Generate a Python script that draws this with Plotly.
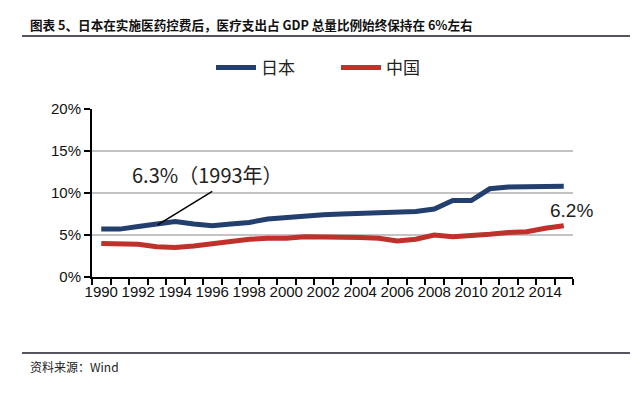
import plotly.graph_objects as go

years = list(range(1990, 2016))
japan = [5.7, 5.7, 6.0, 6.3, 6.6, 6.3, 6.1, 6.3, 6.5, 6.9, 7.1, 7.3, 7.4,
         7.5, 7.6, 7.7, 7.7, 7.8, 8.1, 9.1, 9.1, 10.5, 10.7, 10.7, 10.8, 10.8]
china = [4.0, 4.0, 3.9, 3.6, 3.5, 3.7, 4.0, 4.3, 4.5, 4.6, 4.6, 4.8, 4.8,
         4.8, 4.7, 4.6, 4.3, 4.5, 5.0, 4.8, 4.9, 5.1, 5.3, 5.4, 5.8, 6.1]
series_names = ["日本", "中国"]
y_ticks = [0, 5, 10, 15, 20]
y_tick_labels = ["0%", "5%", "10%", "15%", "20%"]
x_ticks = list(range(1990, 2015, 2))
title_text = "图表 5、日本在实施医药控费后，医疗支出占 GDP 总量比例始终保持在 6%左右"
source_text = "资料来源：Wind"
note_1993 = "6.3%（1993年）"
note_end = "6.2%"

# page has an 8px body margin, so the figure is drawn 8px smaller
W, H = 632, 393
L, R, T, B = 84, 67, 101, 124
pw, ph = W - L - R, H - T - B

def px(x):  # reference-page pixel -> paper fraction
    return (x - 8 - L) / pw

def py(y):
    return (H - B - (y - 8)) / ph

BLUE = "#223F6E"
RED = "#C0312C"
tick_font = dict(family="Liberation Sans, Arial", size=15, color="#111111")

fig = go.Figure()
fig.add_trace(go.Scatter(x=years, y=japan, mode="lines", name=series_names[0],
                         line=dict(color=BLUE, width=5, shape="linear")))
fig.add_trace(go.Scatter(x=years, y=china, mode="lines", name=series_names[1],
                         line=dict(color=RED, width=5, shape="linear")))

fig.update_layout(
    width=W, height=H,
    margin=dict(l=L, r=R, t=T, b=B, autoexpand=False),
    paper_bgcolor="white", plot_bgcolor="white",
    showlegend=True,
    legend=dict(orientation="h", x=px(211), y=py(68), xanchor="left", yanchor="middle",
                font=dict(family="Noto Sans CJK SC", size=17, color="#222222"),
                itemwidth=40, entrywidth=70, entrywidthmode="pixels",
                traceorder="normal", bgcolor="rgba(0,0,0,0)"),
)
fig.update_xaxes(range=[1989.5, 2015.5], tickvals=x_ticks, ticktext=[str(v) for v in x_ticks],
                 ticks="", showgrid=False, zeroline=False, tickangle=0, automargin=False,
                 showline=True, linecolor="black", linewidth=2,
                 tickfont=tick_font,
                 minor=dict(tick0=1989.5, dtick=1, ticks="outside", ticklen=6, tickwidth=2,
                            tickcolor="black", showgrid=False))
fig.update_yaxes(range=[0, 20], tickvals=y_ticks, ticktext=y_tick_labels, automargin=False,
                 ticks="outside", ticklen=6, tickwidth=2, tickcolor="black",
                 showgrid=True, gridcolor="#C4C4C4", gridwidth=1.5, zeroline=False,
                 showline=True, linecolor="black", linewidth=2,
                 tickfont=tick_font)

# pointer line for 1993 annotation
fig.add_shape(type="line", xref="x", yref="y", x0=1993.05, y0=6.2, x1=1996.0, y1=10.2,
              line=dict(color="black", width=1.5))
fig.add_annotation(x=1995.75, y=12.2, xref="x", yref="y", text=note_1993, showarrow=False,
                   font=dict(family="Noto Sans CJK SC, Liberation Sans", size=20, color="#222222"))
fig.add_annotation(x=2015.4, y=7.9, xref="x", yref="y", text=note_end, showarrow=False,
                   font=dict(family="Liberation Sans, Arial", size=19, color="#222222"))

# title and source
fig.add_annotation(x=px(28), y=py(24), xref="paper", yref="paper", xanchor="left", yanchor="middle",
                   text="<b>" + title_text + "</b>", showarrow=False,
                   font=dict(family="Noto Sans CJK SC", size=12.6, color="#111111"))
fig.add_shape(type="line", xref="paper", yref="paper", x0=px(22), x1=px(630), y0=py(36), y1=py(36),
              line=dict(color="#555560", width=2))
fig.add_shape(type="line", xref="paper", yref="paper", x0=px(22), x1=px(630), y0=py(353), y1=py(353),
              line=dict(color="#555560", width=2))
fig.add_annotation(x=px(28), y=py(366), xref="paper", yref="paper", xanchor="left", yanchor="middle",
                   text=source_text, showarrow=False,
                   font=dict(family="Noto Sans CJK SC", size=12, color="#222222"))

fig.write_html("out.html")
